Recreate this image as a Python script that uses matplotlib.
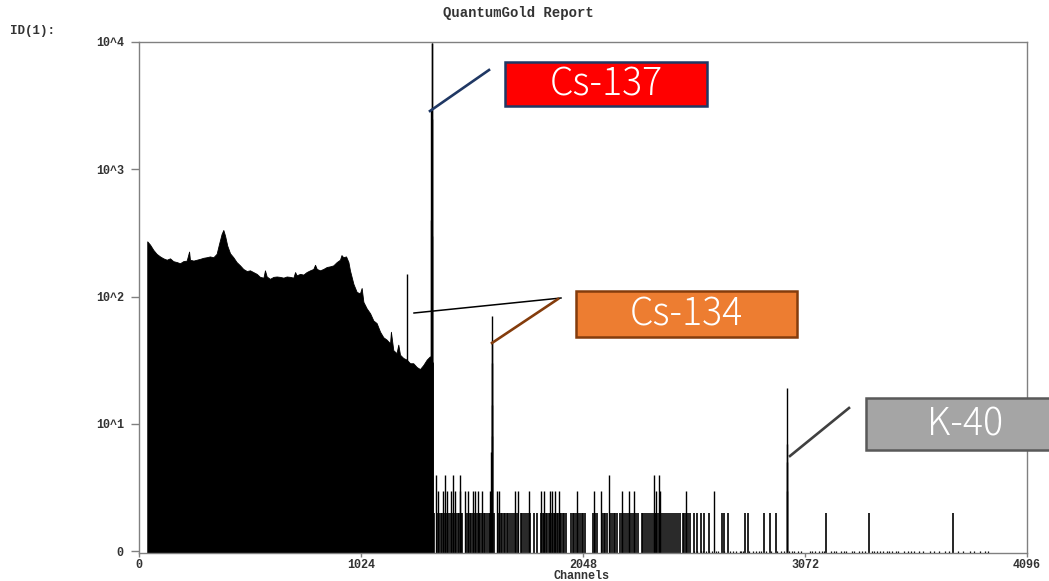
import numpy as np
import matplotlib
matplotlib.use("Agg")
import matplotlib.pyplot as plt
from matplotlib.patches import Rectangle
from matplotlib.lines import Line2D
from matplotlib.ticker import NullLocator

# continuum (channel, counts)
cont_ch = [38, 51, 66, 81, 97, 112, 128, 143, 158, 174, 189, 204, 220, 231, 235,
           251, 266, 281, 297, 312, 327, 343, 358, 369, 381, 389, 397, 407, 420,
           435, 450, 466, 481, 497, 512, 527, 543, 558, 574, 581, 589, 604, 620,
           635, 650, 666, 681, 697, 712, 720, 727, 743, 758, 773, 789, 804, 812, 820,
           835, 850, 866, 881, 896, 912, 927, 934, 942, 955, 966, 973, 989, 1004, 1019,
           1027, 1035, 1050, 1066, 1081, 1096, 1112, 1127, 1142, 1158, 1162, 1173,
           1188, 1196, 1204, 1219, 1235, 1250, 1265, 1281, 1296, 1311, 1327, 1342, 1356]
cont_counts = [272, 256, 233, 217, 207, 200, 195, 200, 190, 187, 183, 190, 192, 226, 195,
               192, 195, 198, 202, 204, 207, 204, 217, 259, 311, 334, 301, 252, 219,
               204, 187, 176, 165, 159, 161, 156, 151, 143, 141, 161, 144, 138, 143,
               144, 143, 141, 144, 143, 141, 156, 147, 151, 149, 156, 161, 165, 178, 165,
               161, 165, 171, 173, 176, 187, 195, 212, 204, 207, 187, 161, 126, 109, 106,
               117, 91, 81, 74, 65, 62, 53, 48, 46, 43, 53, 38,
               36, 42, 35, 33, 32, 30, 30, 28, 27, 29, 32, 34, 30]

# photopeaks
peak_ch = [1236, 1348, 1349, 1350, 1351, 1352, 1353,
           1625, 1626, 1627, 1628, 1629, 1630,
           2987, 2988, 2989, 2990]
peak_counts = [150, 400, 3000, 9800, 9800, 2500, 300,
               6, 14, 45, 70, 30, 8,
               3, 7, 19, 5]

# sparse channels above the continuum edge
fours_ch = [1369, 1410, 1449, 1480, 2169, 2375, 2399]
threes_ch = [1377, 1404, 1422, 1439, 1457, 1480, 1505, 1519, 1540, 1551, 1563, 1581,
             1617, 1652, 1661, 1735, 1746, 1799, 1852, 1870, 1895, 1905, 1918, 1935,
             2019, 2098, 2130, 2228, 2259, 2281, 2383, 2401, 2525, 2653]
twos_ch = [1346, 1356, 1363, 1374, 1386, 1392, 1399, 1413, 1416, 1427, 1434, 1445,
           1452, 1462, 1470, 1475, 1484, 1491, 1510, 1519, 1526, 1533, 1542, 1549,
           1558, 1567, 1574, 1583, 1590, 1597, 1606, 1613, 1620, 1625, 1636, 1661,
           1668, 1675, 1682, 1689, 1696, 1703, 1710, 1719, 1732, 1740, 1749, 1760,
           1767, 1774, 1785, 1795, 1802, 1824, 1834, 1856, 1863, 1870, 1877, 1884,
           1891, 1898, 1905, 1912, 1919, 1926, 1934, 1941, 1948, 1955, 1962, 1969,
           1994, 2001, 2008, 2015, 2024, 2033, 2042, 2050, 2057, 2093, 2104, 2114,
           2134, 2143, 2150, 2160, 2171, 2181, 2189, 2196, 2206, 2217, 2228, 2236,
           2245, 2254, 2263, 2274, 2284, 2293, 2302, 2320, 2327, 2334, 2343, 2351,
           2360, 2369, 2378, 2387, 2396, 2405, 2413, 2422, 2431, 2440, 2449, 2458,
           2468, 2475, 2486, 2497, 2507, 2514, 2525, 2532, 2543, 2560, 2573, 2590,
           2608, 2631, 2688, 2697, 2715, 2794, 2808, 2883, 2909, 2936, 3169, 3365, 3755]
ones_ch = [2560, 2575, 2590, 2602, 2615, 2630, 2645, 2660, 2672, 2700, 2725, 2740,
           2752, 2770, 2778, 2785, 2815, 2830, 2845, 2860, 2870, 2890, 2915, 2945,
           2960, 2975, 3000, 3010, 3020, 3040, 3055, 3095, 3105, 3118, 3135, 3150,
           3160, 3190, 3205, 3215, 3240, 3252, 3262, 3290, 3300, 3320, 3335, 3350,
           3380, 3392, 3402, 3420, 3432, 3448, 3460, 3475, 3490, 3500, 3530, 3545,
           3560, 3575, 3600, 3615, 3650, 3665, 3690, 3720, 3735, 3780, 3800, 3835,
           3850, 3880, 3900, 3915]

xticks = [0, 1024, 2048, 3072, 4096]
yticks = [1, 10, 100, 1000, 10000]
ytick_labels = ["0", "10^1", "10^2", "10^3", "10^4"]

W, H = 1049, 581
def fx(x):
    return x / W
def fy(y):
    return 1 - y / H

mono = "Liberation Mono"
fig = plt.figure(figsize=(W / 100, H / 100), dpi=100)
ax = fig.add_axes([fx(139), fy(553), 888 / W, 511 / H])

base = 0.97
ax.fill_between(cont_ch, cont_counts, base, color="black", lw=0.6)
ax.vlines(ones_ch, base, 1.0, color="black", lw=0.9)
ax.vlines(twos_ch, base, 2, color="black", lw=1.2)
ax.vlines(threes_ch, base, 3, color="black", lw=1.0)
ax.vlines(fours_ch, base, 4, color="black", lw=1.0)
ax.vlines(peak_ch, base, peak_counts, color="black", lw=1.0)

ax.set_yscale("log")
ax.set_xlim(0, 4096)
ax.set_ylim(base, 1e4)
ax.set_xticks(xticks)
ax.set_xticklabels([str(t) for t in xticks])
ax.set_yticks(yticks)
ax.set_yticklabels(ytick_labels)
ax.yaxis.set_minor_locator(NullLocator())
for s in ax.spines.values():
    s.set_color("#808080")
    s.set_linewidth(1.0)
ax.tick_params(axis="y", direction="out", length=6, width=1, color="#808080", pad=5)
ax.tick_params(axis="x", direction="out", length=3, width=1, color="#808080", pad=1)
for lab in ax.get_xticklabels() + ax.get_yticklabels():
    lab.set_family(mono)
    lab.set_fontweight("bold")
    lab.set_fontsize(8.5)
    lab.set_color("#333333")

fig.text(fx(518), fy(13), "QuantumGold Report", ha="center", va="center",
         family=mono, fontweight="bold", fontsize=10, color="#333333")
fig.text(fx(10), fy(31), "ID(1):", ha="left", va="center",
         family=mono, fontweight="bold", fontsize=9, color="#333333")
fig.text(fx(582), fy(576), "Channels", ha="center", va="center",
         family=mono, fontweight="bold", fontsize=8.5, color="#333333")

# nuclide callouts
boxes = [
    ("Cs-137", 505, 62, 707, 106, "#FF0000", "#203864"),
    ("Cs-134", 576, 291, 797, 337, "#ED7D31", "#843C0C"),
    ("K-40", 866, 398, 1062, 450, "#A5A5A5", "#595959"),
]
for label, x0, y0, x1, y1, fc, ec in boxes:
    fig.add_artist(Rectangle((fx(x0), fy(y1)), (x1 - x0) / W, (y1 - y0) / H,
                             transform=fig.transFigure, facecolor=fc,
                             edgecolor=ec, lw=1.8))
    tx = (x0 + x1) / 2 if label != "K-40" else 965
    fig.text(fx(tx), fy((y0 + y1) / 2 + 1), label, ha="center", va="center",
             family="Noto Sans CJK JP", fontweight="light", fontsize=27, color="white")

leaders = [
    ((430, 489), (111, 70), "#203864", 1.9),
    ((414, 561), (313, 298), "black", 1.1),
    ((492, 558), (343, 299), "#843C0C", 1.9),
    ((790, 849), (456, 408), "#404040", 1.9),
]
for xs, ys, c, lw in leaders:
    fig.add_artist(Line2D([fx(xs[0]), fx(xs[1])], [fy(ys[0]), fy(ys[1])],
                          transform=fig.transFigure, color=c, lw=lw))

fig.savefig("out.png", dpi=100)
